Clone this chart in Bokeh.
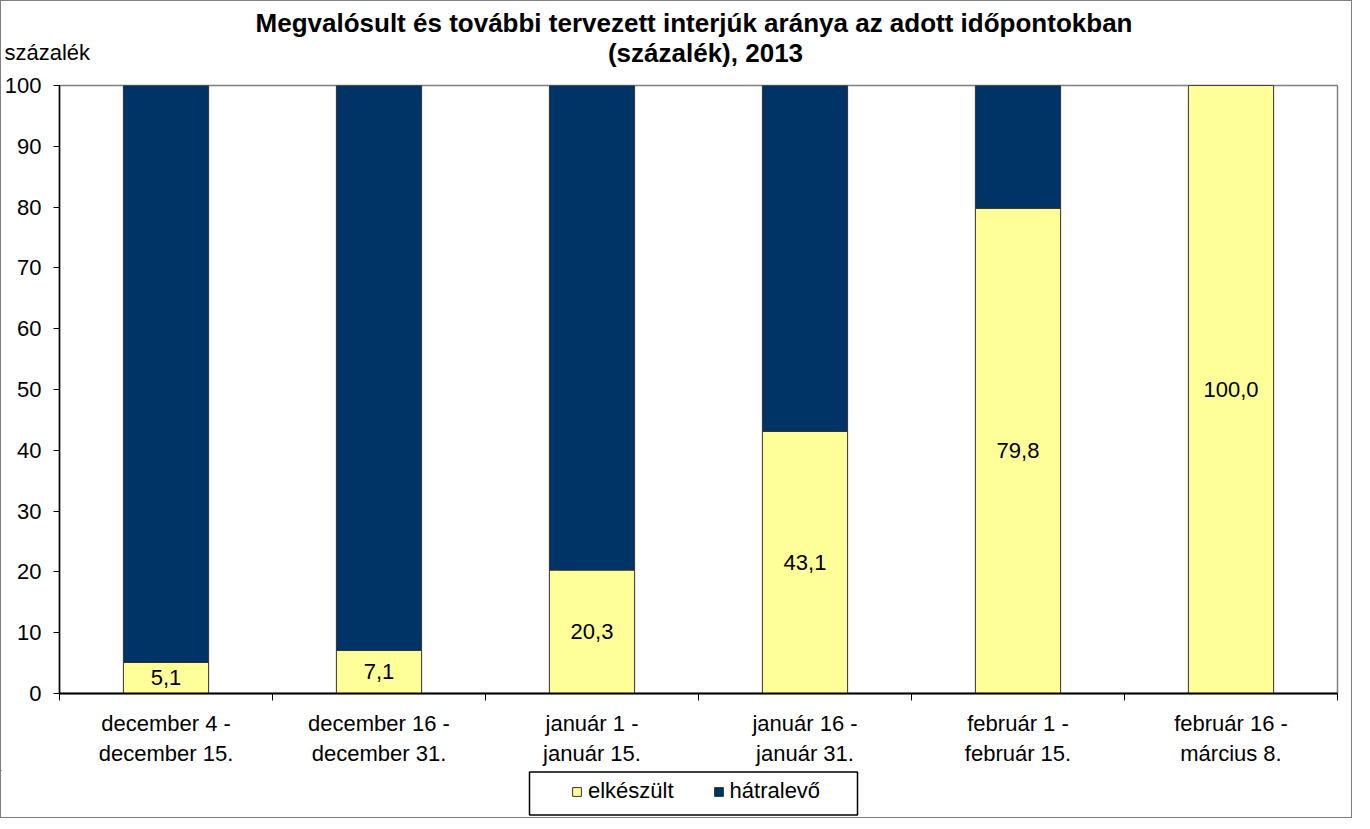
from bokeh.plotting import figure
from bokeh.models import (Range1d, FixedTicker, Legend, LegendItem, LabelSet,
                          ColumnDataSource)
from bokeh.core.properties import value
from bokeh.embed import file_html
from bokeh.resources import INLINE

# ---------------- data ----------------
categories = ["december 4 -\ndecember 15.", "december 16 -\ndecember 31.",
              "január 1 -\njanuár 15.", "január 16 -\njanuár 31.",
              "február 1 -\nfebruár 15.", "február 16 -\nmárcius 8."]
elkeszult = [5.1, 7.1, 20.3, 43.1, 79.8, 100.0]
hatralevo = [round(100 - v, 1) for v in elkeszult]
series_names = ["elkészült", "hátralevő"]
colors = ["#FFFF99", "#003366"]
y_ticks = list(range(0, 101, 10))
title_lines = ["Megvalósult és további tervezett interjúk aránya az adott időpontokban",
               "(százalék), 2013"]
y_unit = "százalék"

FONT = "Liberation Sans"
FS = "22px"
W = 1352
BORDER = "1px solid #808080"

n = len(categories)
xs = [i + 0.5 for i in range(n)]
src = ColumnDataSource(dict(
    x=xs, elk=elkeszult, hat=hatralevo,
    lab_y=[v / 2 for v in elkeszult],
    lab=[f"{v:.1f}".replace(".", ",") for v in elkeszult],
))


def bare(fig):
    fig.xgrid.visible = False
    fig.ygrid.visible = False
    fig.outline_line_color = None
    fig.min_border = 0
    fig.min_border_left = 0
    fig.min_border_right = 0
    fig.min_border_top = 0
    fig.min_border_bottom = 0
    return fig


# ---------------- header (title + unit) ----------------
HH = 71
head = bare(figure(width=W, height=HH, x_range=Range1d(0, W), y_range=Range1d(HH, 0),
                   output_backend="svg", toolbar_location=None,
                   x_axis_location=None, y_axis_location=None))
head.styles = {"border-top": BORDER, "border-left": BORDER, "border-right": BORDER}
head.text(x=[692.5, 704], y=[21, 51], text=title_lines, text_align="center",
          text_baseline="middle", text_font=value(FONT), text_font_size="26px",
          text_font_style="bold", text_color="black")
head.text(x=[3], y=[51], text=[y_unit], text_align="left", text_baseline="middle",
          text_font=value(FONT), text_font_size=FS, text_color="black")

# ---------------- main chart ----------------
p = figure(width=W, height=699, x_range=Range1d(0, n), y_range=Range1d(0, 100),
           output_backend="svg", toolbar_location=None,
           min_border_left=57, min_border_right=16, min_border_top=14, min_border_bottom=77)
p.styles = {"border-left": BORDER, "border-right": BORDER}
p.xgrid.visible = False
p.ygrid.visible = False
p.outline_line_color = "#808080"
p.outline_line_width = 1.5

rs = p.vbar_stack(["elk", "hat"], x="x", width=0.4, source=src, fill_color=colors,
                  line_color="#333333", line_width=1)

p.add_layout(LabelSet(x="x", y="lab_y", text="lab", source=src, text_align="center",
                      text_baseline="middle", text_font=value(FONT), text_font_size=FS,
                      text_color="black"))

p.yaxis.ticker = FixedTicker(ticks=y_ticks)
p.yaxis.major_tick_in = 0
p.yaxis.major_tick_out = 6
p.yaxis.minor_tick_line_color = None
p.yaxis.axis_line_color = "black"
p.yaxis.axis_line_width = 1.5
p.yaxis.major_label_text_font = FONT
p.yaxis.major_label_text_font_size = FS
p.yaxis.major_label_text_color = "black"
p.yaxis.major_label_standoff = 12

p.xaxis.ticker = FixedTicker(ticks=xs, minor_ticks=list(range(n + 1)))
p.xaxis.major_label_overrides = {x: c for x, c in zip(xs, categories)}
p.xaxis.major_tick_line_color = None
p.xaxis.major_tick_in = 0
p.xaxis.major_tick_out = 0
p.xaxis.minor_tick_in = 0
p.xaxis.minor_tick_out = 7
p.xaxis.minor_tick_line_color = "black"
p.xaxis.axis_line_color = "black"
p.xaxis.axis_line_width = 2
p.xaxis.major_label_text_font = FONT
p.xaxis.major_label_text_font_size = FS
p.xaxis.major_label_text_color = "black"
p.xaxis.major_label_standoff = 10

# ---------------- footer (legend) ----------------
FH = 48
foot = bare(figure(width=W, height=FH, x_range=Range1d(0, W), y_range=Range1d(FH, 0),
                   output_backend="svg", toolbar_location=None,
                   x_axis_location=None, y_axis_location=None))
foot.styles = {"border-bottom": BORDER, "border-left": BORDER, "border-right": BORDER}
# one off-canvas row each so the legend has a glyph to draw
leg_r = [foot.vbar(x=[-50], top=[0], width=1, fill_color=c, line_color="#333333")
         for c in colors]
foot.quad(left=[528], right=[856], top=[1.5], bottom=[44.5], fill_color=None,
          line_color="black", line_width=1.5)
legend = Legend(items=[LegendItem(label=s, renderers=[r]) for s, r in zip(series_names, leg_r)],
                orientation="horizontal", location=(570, 14),
                label_text_font=FONT, label_text_font_size=FS, label_text_color="black",
                label_height=22, glyph_width=11, glyph_height=11, label_standoff=6,
                spacing=39, padding=0, margin=0, border_line_color=None,
                background_fill_alpha=0)
foot.add_layout(legend, "center")

open("out.html", "w").write(file_html([head, p, foot], INLINE))
